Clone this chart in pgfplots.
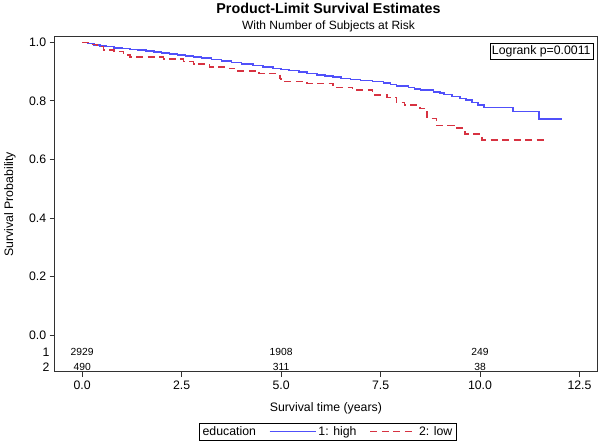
\documentclass[border=0pt]{standalone}
\usepackage{fontspec}
\setmainfont{Liberation Sans}
\usepackage{pgfplots}
\pgfplotsset{compat=1.18}
\definecolor{kmblue}{RGB}{80,80,250}
\definecolor{kmred}{RGB}{215,50,65}
\definecolor{framegray}{RGB}{50,50,50}
\begin{document}
\begin{tikzpicture}
\begin{axis}[
  scale only axis, width=542.3pt, height=335pt,
  xmin=-0.69, xmax=12.94, ymin=-0.125, ymax=1.019,
  clip mode=individual,
  axis line style={framegray, line width=0.8pt},
  tick style={framegray, line width=0.7pt},
  xtick={0,2.5,5,7.5,10,12.5},
  ytick={0,0.2,0.4,0.6,0.8,1.0},
  tick align=outside, major tick length=5pt,
  xtick pos=bottom, ytick pos=left,
  /pgf/number format/assume math mode=true,
  xticklabel style={/pgf/number format/fixed, /pgf/number format/fixed zerofill, /pgf/number format/precision=1, font=\fontsize{12.3}{14}\selectfont},
  yticklabel style={/pgf/number format/fixed, /pgf/number format/fixed zerofill, /pgf/number format/precision=1, font=\fontsize{12.3}{14}\selectfont},
  xticklabel shift=1pt,
  xlabel={Survival time (years)},
  ylabel={Survival Probability},
  xlabel style={at={(axis description cs:0.5,-0.108)}, anchor=center, font=\fontsize{12.3}{14}\selectfont},
  ylabel style={at={(axis description cs:-0.0824,0.5)}, anchor=center, font=\fontsize{12.3}{14}\selectfont},
  legend style={at={(axis description cs:0.503,-0.1785)}, anchor=center,
    legend columns=-1, inner sep=1.5pt,
    font=\fontsize{12.3}{14}\selectfont,
    /tikz/every even column/.append style={column sep=11pt}},
]
\addlegendimage{empty legend}
\addlegendentry{education}
\addlegendimage{legend image code/.code={\draw[kmblue, line width=1.5pt] (0pt,0pt) -- (46pt,0pt);}}
\addlegendentry{1: high}
\addlegendimage{legend image code/.code={\draw[kmred, line width=1.5pt, dash pattern=on 7pt off 4.5pt] (0pt,0pt) -- (46pt,0pt);}}
\addlegendentry{2: low}

\addplot[kmblue, line width=1.5pt, const plot mark left, forget plot] coordinates {
(0,1.0) (0.15,0.995) (0.3,0.99) (0.45,0.988) (0.6,0.985) (0.8,0.981) (1.0,0.978) (1.2,0.976)
(1.4,0.973) (1.6,0.970) (1.8,0.967) (2.0,0.963) (2.2,0.960) (2.4,0.956) (2.6,0.953) (2.8,0.950)
(3.0,0.946) (3.25,0.941) (3.5,0.936) (3.75,0.931) (4.0,0.926) (4.3,0.921) (4.55,0.916) (4.8,0.911)
(5.0,0.907) (5.2,0.903) (5.45,0.898) (5.65,0.894) (5.9,0.889) (6.1,0.885) (6.3,0.881) (6.5,0.877)
(6.75,0.873) (7.0,0.870) (7.3,0.866) (7.57,0.861) (7.75,0.856) (7.9,0.850) (8.2,0.846) (8.35,0.841)
(8.5,0.837) (8.83,0.830) (9.0,0.826) (9.1,0.822) (9.3,0.815) (9.5,0.808) (9.65,0.802) (9.8,0.795)
(9.95,0.786) (10.1,0.777) (10.83,0.764) (11.48,0.738) (12.07,0.738)
};

\addplot[kmred, line width=1.5pt, dash pattern=on 7pt off 4.5pt, const plot mark left, forget plot] coordinates {
(0,1.0) (0.2,0.993) (0.37,0.985) (0.54,0.974) (0.8,0.968) (1.04,0.957) (1.2,0.949) (1.9,0.949)
(2.05,0.943) (2.55,0.934) (2.8,0.925) (3.2,0.915) (3.7,0.910) (3.9,0.902) (4.45,0.893) (4.97,0.877)
(5.0,0.866) (5.65,0.860) (6.3,0.846) (6.8,0.837) (7.3,0.820) (7.66,0.812) (7.9,0.795) (8.1,0.785)
(8.49,0.773) (8.67,0.740) (8.9,0.716) (9.34,0.707) (9.6,0.699) (9.62,0.686) (10.05,0.667) (11.68,0.667)
};

\node[draw=black, fill=white, anchor=north east, inner sep=2.2pt, font=\fontsize{12.3}{14}\selectfont]
  at (axis description cs:0.9926,0.982) {Logrank p=0.0011};

% numbers at risk
\node[font=\fontsize{10.3}{11}\selectfont] at (axis cs:0,-0.057) {2929};
\node[font=\fontsize{10.3}{11}\selectfont] at (axis cs:5,-0.057) {1908};
\node[font=\fontsize{10.3}{11}\selectfont] at (axis cs:10,-0.057) {249};
\node[font=\fontsize{10.3}{11}\selectfont] at (axis cs:0,-0.108) {490};
\node[font=\fontsize{10.3}{11}\selectfont] at (axis cs:5,-0.108) {311};
\node[font=\fontsize{10.3}{11}\selectfont] at (axis cs:10,-0.108) {38};
\node[anchor=east, inner sep=0pt, font=\fontsize{12.3}{14}\selectfont] at ([xshift=-5pt]axis cs:-0.69,-0.057) {1};
\node[anchor=east, inner sep=0pt, font=\fontsize{12.3}{14}\selectfont] at ([xshift=-5pt]axis cs:-0.69,-0.108) {2};
\end{axis}
\node[font=\bfseries\fontsize{14.3}{17}\selectfont] at (273.8pt,363pt) {Product-Limit Survival Estimates};
\node[font=\fontsize{12}{14}\selectfont] at (273.8pt,345pt) {With Number of Subjects at Risk};
\pgfresetboundingbox
\path (-54.7pt,-71.3pt) rectangle (545.3pt,371.7pt);
\end{tikzpicture}
\end{document}
